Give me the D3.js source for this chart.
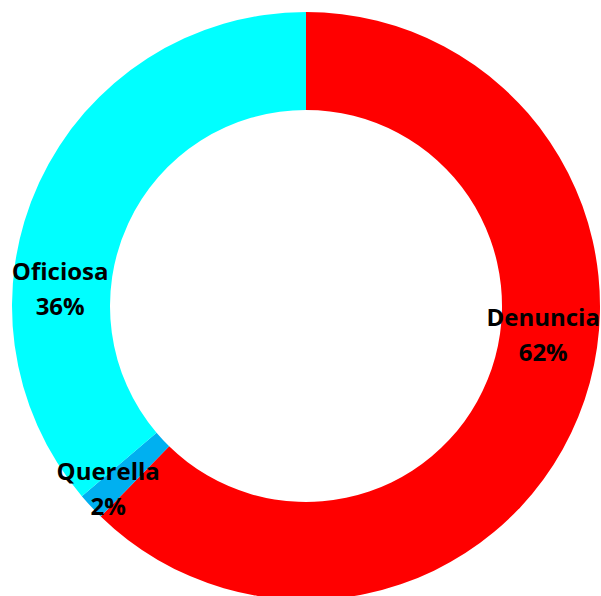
<!DOCTYPE html>
<html>
<head>
<meta charset="utf-8">
<script src="https://cdn.jsdelivr.net/npm/d3@7"></script>
<style>
    body { margin: 0; background: #fff; }
    .label { font-family: "Open Sans", sans-serif; font-weight: bold; font-size: 24px; fill: #000; }
</style>
</head>
<body>
<div id="chart"></div>
<script>
//数据
const categories = ["Denuncia", "Querella", "Oficiosa"];
const values = [62.3, 1.5, 36.2];
const colors = ["#FF0000", "#00B0F0", "#00FFFF"];

//标签位置（角度, 半径）
const labelAngles = [98.75, 226.0, 272.1];
const labelRadii = [240, 275, 246];

//绘图属性
const width = 601;
const height = 596;
const cx = 306, cy = 306;
const outerR = 294, innerR = 196;

var svg = d3.select("#chart").append("svg")
    .attr("width", width).attr("height", height);

var g = svg.append("g")
    .attr("transform", "translate(" + cx + "," + cy + ")");

var data = categories.map(function (c, i) {
    return {name: c, value: values[i], color: colors[i]};
});

var pie = d3.pie()
    .value(d => d.value)
    .sort(null);

var arc = d3.arc()
    .innerRadius(innerR)
    .outerRadius(outerR);

var arcs = pie(data);

g.selectAll(".slice")
    .data(arcs)
    .enter()
    .append("path")
    .attr("class", "slice")
    .attr("d", arc)
    .attr("fill", d => d.data.color);

var total = d3.sum(values);

var labels = g.selectAll(".label")
    .data(arcs)
    .enter()
    .append("text")
    .attr("class", "label")
    .attr("text-anchor", "middle")
    .attr("transform", function (d, i) {
        var a = labelAngles[i] * Math.PI / 180;
        var x = labelRadii[i] * Math.sin(a);
        var y = -labelRadii[i] * Math.cos(a);
        return "translate(" + x + "," + y + ")";
    });

labels.append("tspan")
    .attr("x", 0)
    .attr("y", -17)
    .text(d => d.data.name);

labels.append("tspan")
    .attr("x", 0)
    .attr("y", 18)
    .text(d => Math.round(d.data.value / total * 100) + "%");
</script>
</body>
</html>
